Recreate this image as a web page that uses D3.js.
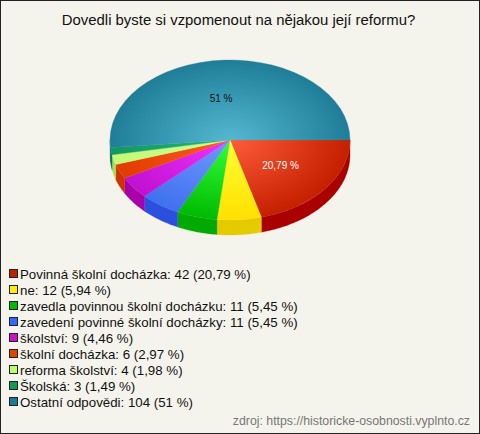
<!DOCTYPE html>
<html><head><meta charset="utf-8">
<script src="https://cdn.jsdelivr.net/npm/d3@7"></script>
<style>html,body{margin:0;padding:0;background:#f5f4ec}svg{display:block}</style>
</head><body><svg id="c" width="480" height="434"></svg>
<script>
const titleText = "Dovedli byste si vzpomenout na nějakou její reformu?";
const categories = ["Povinná školní docházka","ne","zavedla povinnou školní docházku","zavedení povinné školní docházky","školství","školní docházka","reforma školství","Školská","Ostatní odpovědi"];
const values = [42,12,11,11,9,6,4,3,104];
const percents = ["20,79","5,94","5,45","5,45","4,46","2,97","1,98","1,49","51"];
const sliceLabels = {0:"20,79 %",8:"51 %"};
const innerColors = ["#ff5c3c","#ffff33","#33ff3c","#7099ff","#f033ff","#ff5c22","#ccff88","#22b878","#55b8d0"];
const outerColors = ["#c42000","#ffe000","#00bb00","#4070ee","#c010d0","#e03c00","#c4f878","#109860","#1f7d98"];
const sideColors  = ["#aa0000","#e3cb00","#00aa00","#2a50dd","#aa00aa","#cc3300","#aadd55","#0b7a4d","#13607a"];
const swatchColors= ["#bb2200","#ffee00","#00bb00","#3366ff","#cc11cc","#dd4400","#bbff66","#119955","#1a7a99"];
const sourceText = "zdroj: https://historicke-osobnosti.vyplnto.cz";

const W=480,H=434,cx=230,cy=140,rx=120,ry=80,depth=15;
const svg=d3.select("#c");
svg.append("rect").attr("x",.5).attr("y",.5).attr("width",W-1).attr("height",H-1).attr("fill","#f5f4ec").attr("stroke","#222");
svg.append("text").text(titleText).attr("x",238.5).attr("y",25).attr("text-anchor","middle")
  .attr("font-family","Liberation Sans").attr("font-size",14.9).attr("fill","#111");

const pie=d3.pie().value(d=>d).sort(null).startAngle(Math.PI/2).endAngle(Math.PI*2.5);
const arcs=pie(values);
const defs=svg.append("defs");
const rScale=d3.scaleLinear().domain([0,1]).range([0,rx]);
const yScale=d3.scaleLinear().domain([0,1]).range([0,ry]);
const arcGen=d3.arc().innerRadius(0).outerRadius(rScale(1));
const gp=a=>[rScale(1)*Math.sin(a),-yScale(1)*Math.cos(a)];

const g=svg.append("g").attr("transform",`translate(${cx},${cy})`);
const sideLine=d3.line();
arcs.forEach((d,i)=>{
  const a0=Math.max(d.startAngle,Math.PI/2), a1=Math.min(d.endAngle,Math.PI*1.5);
  if(a1<=a0) return;
  const n=Math.ceil((a1-a0)/0.02);
  const ang=d3.range(n+1).map(k=>a0+(a1-a0)*k/n);
  const top=ang.map(gp);
  const bot=ang.slice().reverse().map(a=>{const p=gp(a);return [p[0],p[1]+depth]});
  g.append("path").attr("d",sideLine(top.concat(bot))+"Z").attr("fill",sideColors[i]).attr("stroke",sideColors[i]).attr("stroke-width",.3);
});
const face=g.append("g").attr("transform",`scale(1,${ry/rx})`);
arcs.forEach((d,i)=>{
  const gr=defs.append("radialGradient").attr("id","g"+i).attr("gradientUnits","userSpaceOnUse")
    .attr("cx",0).attr("cy",0).attr("r",rx);
  gr.append("stop").attr("offset",0).attr("stop-color",innerColors[i]);
  gr.append("stop").attr("offset",1).attr("stop-color",outerColors[i]);
  face.append("path").attr("d",arcGen(d)).attr("fill",`url(#g${i})`).attr("stroke",`url(#g${i})`).attr("stroke-width",.4);
});
const labelPos={0:[0.52,1],8:[0.52,-6]};
arcs.forEach((d,i)=>{
  if(!sliceLabels[i]) return;
  const a=(d.startAngle+d.endAngle)/2, p=gp(a), k=labelPos[i];
  g.append("text").text(sliceLabels[i]).attr("x",p[0]*k[0]+k[1]).attr("y",p[1]*k[0]+3.5).attr("text-anchor","middle")
    .attr("font-family","Liberation Sans").attr("font-size",10).attr("fill",i===0?"#fff":"#111");
});
const rowY=d3.scalePoint().domain(d3.range(categories.length)).range([274,402]);
const leg=svg.append("g");
categories.forEach((c,i)=>{
  leg.append("rect").attr("x",9.5).attr("y",rowY(i)-4.5).attr("width",8).attr("height",8)
    .attr("fill",swatchColors[i]).attr("stroke","#222");
  leg.append("text").text(`${c}: ${values[i]} (${percents[i]} %)`).attr("x",20).attr("y",rowY(i)+4.5)
    .attr("font-family","Liberation Sans").attr("font-size",13.3).attr("fill","#111");
});
svg.append("text").text(sourceText).attr("x",470).attr("y",425).attr("text-anchor","end")
  .attr("font-family","Liberation Sans").attr("font-size",12.3).attr("fill","#777");
</script></body></html>
